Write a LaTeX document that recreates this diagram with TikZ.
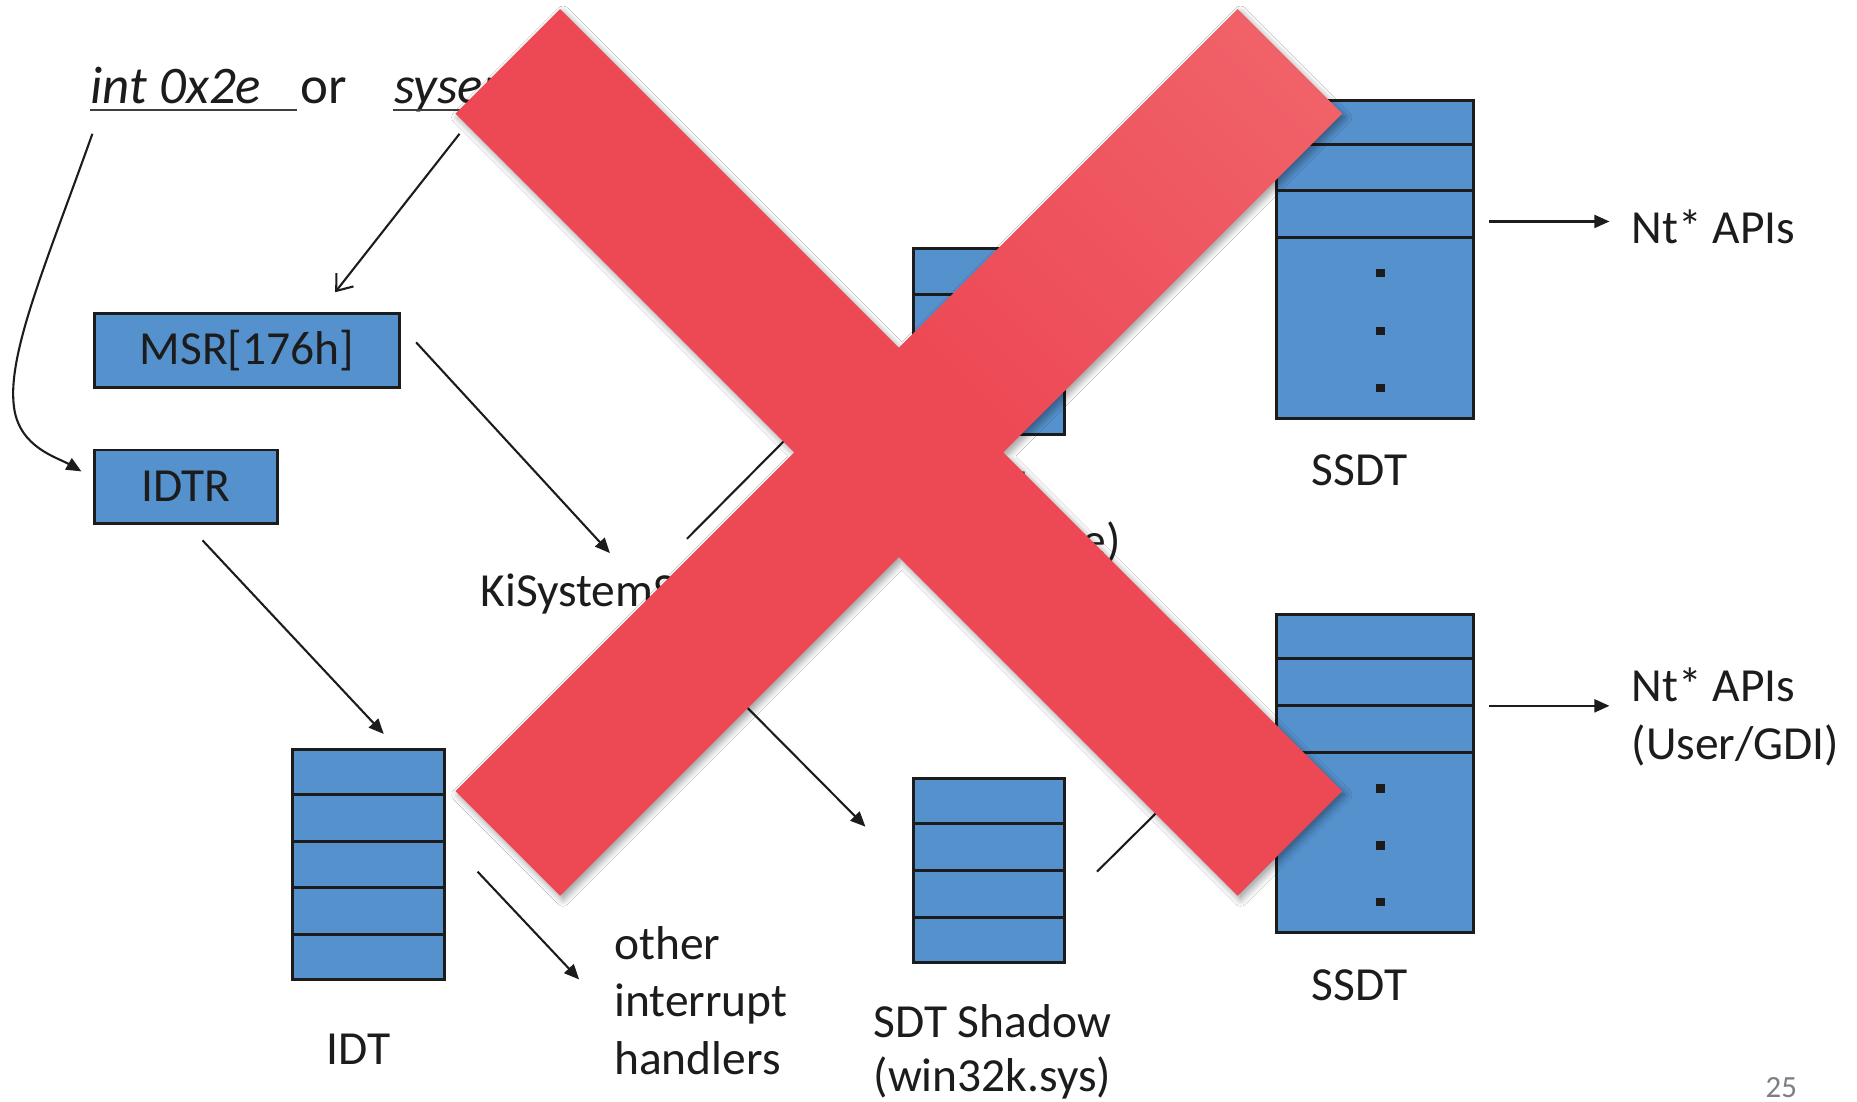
\documentclass[tikz,border=0pt]{standalone}
\usepackage{fontspec}
\setmainfont{Carlito}
\usetikzlibrary{arrows.meta,shadows.blur,calc}

\definecolor{boxblue}{RGB}{84,145,205}
\definecolor{xred}{RGB}{237,73,85}
\definecolor{xredlt}{RGB}{241,102,108}
\definecolor{ink}{RGB}{28,28,28}
\definecolor{pagegray}{RGB}{125,125,132}

\pgfdeclarehorizontalshading{xmarkshade}{100bp}{color(0bp)=(xred); color(55bp)=(xred); color(86bp)=(xredlt); color(100bp)=(xredlt)}

\newcommand\bodyfont{\fontsize{11.4}{13.7}\selectfont}
\newcommand\headfont{\fontsize{12.7}{15.2}\selectfont}

\begin{document}
\begin{tikzpicture}[x=0.01cm, y=-0.01cm,
  lbl/.style={inner sep=0pt, font=\bodyfont, text=ink},
  regbox/.style={draw=ink, fill=boxblue, line width=0.7pt, inner sep=0pt, font=\bodyfont, text=ink},
  tbl/.style={draw=ink, fill=boxblue, line width=0.7pt, inner sep=0pt},
  rowline/.style={draw=ink, line width=0.7pt},
  uline/.style={draw=ink!85, line width=0.45pt},
  arr/.style={draw=ink, line width=0.5pt, -{Triangle[length=3.6pt,width=3.1pt]}},
  barb/.style={draw=ink, line width=0.5pt, -{Straight Barb[length=3.4pt,width=5.2pt]}},
  xmark/.style={shading=xmarkshade, shading angle=45,
    blur shadow={shadow xshift=0.7pt, shadow yshift=-0.9pt, shadow blur radius=1.6pt, shadow blur steps=8, shadow opacity=40}},
  dotsq/.style={fill=ink}
]
\useasboundingbox (0,0) rectangle (1568,930);
\fill[white] (0,0) rectangle (1568,930);

% instruction line
\node[lbl, font=\headfont\itshape, anchor=base west] (intx) at (76,87) {int 0x2e};
\node[lbl, font=\headfont, anchor=base west] (orw) at (253,87) {or};
\node[lbl, font=\headfont\itshape, anchor=base west] (sysent) at (332,87) {sysenter};
\draw[uline] ([yshift=-1.7pt]intx.base west) -- ([xshift=-0.6pt,yshift=-1.7pt]orw.base west);
\draw[uline] ([yshift=-1.7pt]sysent.base west) -- ([yshift=-1.7pt]sysent.base east);

% registers
\node[regbox, minimum width=2.57cm, minimum height=0.62cm] (msr) at (208.5,296) {MSR[176h]};
\node[regbox, minimum width=1.54cm, minimum height=0.62cm] (idtr) at (157,411) {IDTR};

\node[lbl, anchor=base west] (kiss) at (405,512) {KiSystemService};

% IDT
\node[tbl, minimum width=1.28cm, minimum height=1.94cm] (idt) at (311,730) {};
\foreach \f in {0.2,0.4,0.6,0.8}
  \draw[rowline] ($(idt.north west)!\f!(idt.south west)$) -- ($(idt.north east)!\f!(idt.south east)$);
\node[lbl, anchor=base] (idtlbl) at (303,899) {IDT};

\node[lbl, anchor=base west] (oth1) at (518,810) {other};
\node[lbl, anchor=base west] (oth2) at (518,858) {interrupt};
\node[lbl, anchor=base west] (oth3) at (518,907) {handlers};

% SDT
\node[tbl, minimum width=1.28cm, minimum height=1.57cm] (sdt) at (835,288.5) {};
\foreach \f in {0.25,0.5,0.75}
  \draw[rowline] ($(sdt.north west)!\f!(sdt.south west)$) -- ($(sdt.north east)!\f!(sdt.south east)$);
\node[lbl, anchor=base] (sdtl1) at (835,424) {SDT};
\node[lbl, anchor=base] (sdtl2) at (835,470) {(ntoskrnl.exe)};

% SDT Shadow
\node[tbl, minimum width=1.28cm, minimum height=1.56cm] (sdts) at (835,735) {};
\foreach \f in {0.25,0.5,0.75}
  \draw[rowline] ($(sdts.north west)!\f!(sdts.south west)$) -- ($(sdts.north east)!\f!(sdts.south east)$);
\node[lbl, anchor=base] (sdtsl1) at (838,876) {SDT Shadow};
\node[lbl, anchor=base] (sdtsl2) at (838,922) {(win32k.sys)};

% SSDT (ntoskrnl)
\node[tbl, minimum width=1.66cm, minimum height=2.68cm] (ssdta) at (1161,219) {};
\foreach \f in {0.141,0.286,0.433}
  \draw[rowline] ($(ssdta.north west)!\f!(ssdta.south west)$) -- ($(ssdta.north east)!\f!(ssdta.south east)$);
\foreach \dy in {146.7,195.7,244}
  \fill[dotsq] ($(ssdta.north west)+(89,\dy)$) ++(-3.8,-3.6) rectangle ++(7.6,7.2);
\node[lbl, anchor=base] (ssdtal) at (1148,410) {SSDT};
\node[lbl, anchor=base west] (nta) at (1377,206) {Nt* APIs};

% SSDT (win32k)
\node[tbl, minimum width=1.66cm, minimum height=2.68cm] (ssdtb) at (1161,653) {};
\foreach \f in {0.142,0.287,0.436}
  \draw[rowline] ($(ssdtb.north west)!\f!(ssdtb.south west)$) -- ($(ssdtb.north east)!\f!(ssdtb.south east)$);
\foreach \dy in {148,196,244}
  \fill[dotsq] ($(ssdtb.north west)+(89,\dy)$) ++(-3.8,-3.6) rectangle ++(7.6,7.2);
\node[lbl, anchor=base] (ssdtbl) at (1148,845) {SSDT};
\node[lbl, anchor=base west] (ntb1) at (1377,592) {Nt* APIs};
\node[lbl, anchor=base west] (ntb2) at (1377,641) {(User/GDI)};

\node[lbl, font=\fontsize{7.4}{8}\selectfont, text=pagegray, anchor=base east] (pageno) at (1518,927) {25};

% connectors
\draw[barb] ([shift={(56,26)}]sysent.base west) -- ([shift={(74.5,-17)}]msr.north);
\draw[arr] ([shift={(2,26)}]intx.base west)
  .. controls (40,220) and (5,300) .. (12,345)
  .. controls (17,378) and (48,386) .. ([shift={(-10,-13)}]idtr.west);
\draw[arr] ([shift={(13,-7)}]msr.east) -- ([shift={(110,-45)}]kiss.base west);
\draw[arr] ([shift={(14,13)}]idtr.south) -- ([shift={(13,-12)}]idt.north);
\draw[arr] ([shift={(27,6)}]idt.east) -- ([shift={(-29,17)}]oth1.base west);
\draw[arr] ([shift={(175,-57)}]kiss.base west) -- ([shift={(-29,4.5)}]sdt.west);
\draw[arr] ([shift={(160,19)}]kiss.base west) -- ([shift={(-39,-37)}]sdts.west);
\draw[arr] ([shift={(6,-20)}]sdt.east) -- ([shift={(-46,-27)}]ssdta.west);
\draw[arr] ([shift={(26,1)}]sdts.east) -- ([shift={(-38,-28.5)}]ssdtb.west);
\draw[arr] ([shift={(12,-32)}]ssdta.east) -- ([shift={(-18,-19)}]nta.base west);
\draw[arr] ([shift={(12,-57)}]ssdtb.east) -- ([shift={(-18,4)}]ntb1.base west);

% the cross laid over the diagram
\shade[xmark] (1133.4,668) -- (847.1,382) -- (1133.4,96) -- (1045,7.6) -- (759,293.6)
  -- (473,7.6) -- (384.6,96) -- (670.6,382) -- (384.6,668) -- (473,756.4)
  -- (759,470.4) -- (1045,756.4) -- cycle;
\end{tikzpicture}
\end{document}
